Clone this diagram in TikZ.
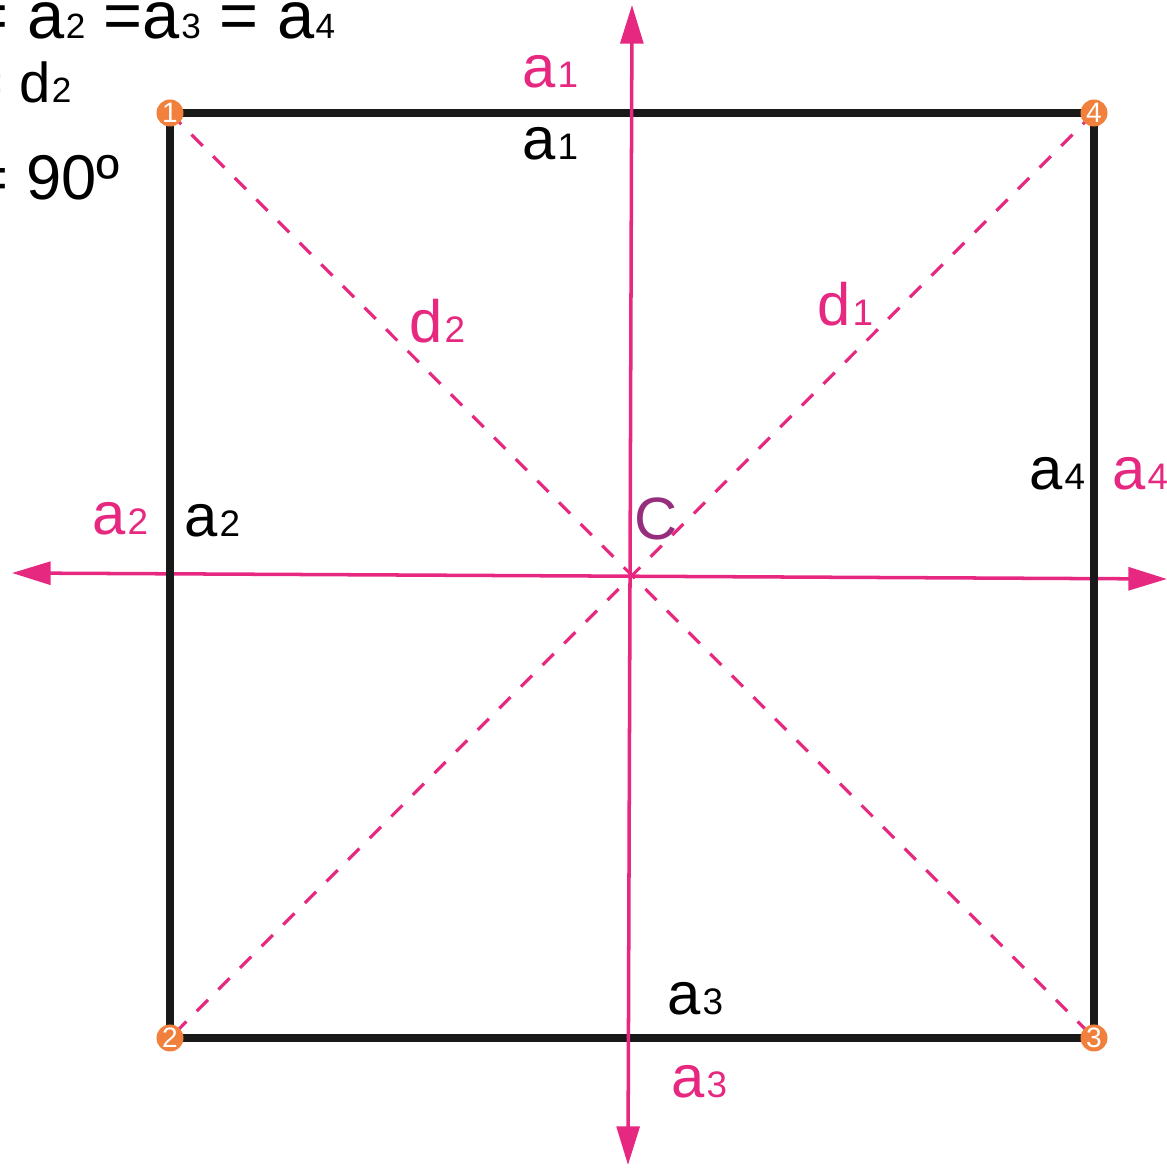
\documentclass[tikz,border=0pt]{standalone}
\usepackage{fontspec}
\setmainfont{Liberation Sans}
\usetikzlibrary{arrows.meta}
\definecolor{sqpink}{RGB}{230,40,128}
\definecolor{sqorange}{RGB}{240,128,60}
\definecolor{sqpurple}{RGB}{150,45,125}
\newcommand{\sidename}[2]{#1\kern0.5pt{\fontsize{10.5}{10.5}\selectfont #2}}
\newcommand{\eqname}[2]{#1\kern0.4pt{\fontsize{10}{10}\selectfont #2}}
\tikzset{
  squarefig/.style={>={Triangle[length=11pt,width=6.5pt]},
    every node/.style={inner sep=0pt,anchor=base west}},
  side/.style={line width=2pt,draw=black!90,line join=miter},
  axis/.style={sqpink,line width=1pt,<->},
  diag/.style={sqpink,line width=0.9pt,dash pattern=on 4.5pt off 4.2pt},
  corner/.style={circle,fill=sqorange,minimum size=0.27cm,inner sep=0pt,
    text=white,font=\fontsize{8}{8}\selectfont,anchor=center},
  sidelbl/.style={font=\fontsize{17}{17}\selectfont},
  pinklbl/.style={sidelbl,text=sqpink},
  eqlbl/.style={font=\fontsize{19}{19}\selectfont},
}
\begin{document}
\begin{tikzpicture}[squarefig]
  \useasboundingbox (0,0) rectangle (11.67,11.68);
  % corners and centre
  \coordinate (p1) at (1.70,10.55);
  \coordinate (p2) at (1.70,1.30);
  \coordinate (p3) at (10.94,1.30);
  \coordinate (p4) at (10.94,10.55);
  \coordinate (up) at (6.32,11.63);
  \coordinate (down) at (6.28,0.03);
  \coordinate (west) at (0.12,5.95);
  \coordinate (east) at (11.67,5.89);

  % diagonals
  \draw[diag] (p1) -- (p3);
  \draw[diag] (p4) -- (p2);

  \draw[axis] (west) -- (east);
  \draw[side] (p1) -- (p4) -- (p3) -- (p2) -- cycle;
  \draw[axis] (down) -- (up);

  % side labels
  \node[pinklbl] (a1out) at (5.22,10.80) {\sidename{a}{1}};
  \node[sidelbl] (a1in) at (5.22,10.08) {\sidename{a}{1}};
  \node[pinklbl] (a2out) at (0.92,6.33) {\sidename{a}{2}};
  \node[sidelbl] (a2in) at (1.84,6.31) {\sidename{a}{2}};
  \node[sidelbl] (a3in) at (6.67,1.53) {\sidename{a}{3}};
  \node[pinklbl] (a3out) at (6.71,0.70) {\sidename{a}{3}};
  \node[sidelbl] (a4in) at (10.29,6.78) {\sidename{a}{4}};
  \node[pinklbl] (a4out) at (11.12,6.78) {\sidename{a}{4}};
  \node[pinklbl] (d1lbl) at (8.17,8.43) {\sidename{d}{1}};
  \node[pinklbl] (d2lbl) at (4.09,8.26) {\sidename{d}{2}};
  \node[sidelbl,text=sqpurple] (clbl) at (6.34,6.28) {C};

  % properties
  \node[eqlbl] (eqsides) at (-0.31,11.29)
    {= \eqname{a}{2} =\eqname{a}{3} = \eqname{a}{4}};
  \node[eqlbl,font=\fontsize{16}{16}\selectfont] (eqdiag) at (-0.30,10.65)
    {= \eqname{d}{2}};
  \node[eqlbl,font=\fontsize{18}{18}\selectfont] (eqangle) at (-0.29,9.68)
    {= 90º};

  % numbered corners
  \node[corner] (v1) at (p1) {1};
  \node[corner] (v2) at (p2) {2};
  \node[corner] (v3) at (p3) {3};
  \node[corner] (v4) at (p4) {4};
\end{tikzpicture}
\end{document}
